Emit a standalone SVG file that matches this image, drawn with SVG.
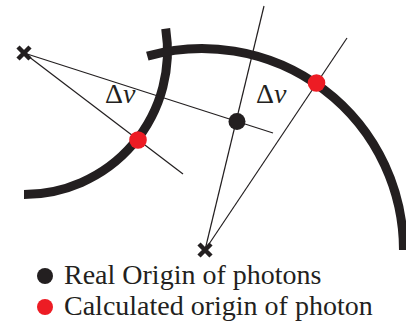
<svg xmlns="http://www.w3.org/2000/svg" width="406" height="324" viewBox="0 0 406 324">
<style>
.arc{fill:none;stroke:#231f20;stroke-width:9}
.ray{fill:none;stroke:#231f20;stroke-width:1.2}
.x{fill:none;stroke:#231f20;stroke-width:4.5}
.real{fill:#231f20}
.calc{fill:#ed1c24}
text{font-family:"Times New Roman","Liberation Serif",Times,"DejaVu Serif",serif;font-size:28px;fill:#231f20}
.it{font-style:italic}
</style>
<rect width="406" height="324" fill="#fff"/>
<g id="detector-left"><path class="arc" d="M165.7 28.6A143.5 143.5 0 0 1 24 194.5"/></g>
<g id="detector-right"><path class="arc" d="M147.3 56.1A201.5 201.5 0 0 1 403.5 250"/></g>
<g id="connectors">
<line class="ray" x1="24" y1="53" x2="273" y2="133"/>
<line class="ray" x1="24" y1="53" x2="183" y2="174"/>
<line class="ray" x1="205" y1="250" x2="264" y2="6"/>
<line class="ray" x1="205" y1="250" x2="347" y2="38"/>
</g>
<g id="cross-left"><path class="x" d="M18 47l12 12M30 47l-12 12"/></g>
<g id="cross-right"><path class="x" d="M199 244l12 12M211 244l-12 12"/></g>
<g id="real-origin"><circle class="real" cx="237" cy="121.5" r="8.5"/></g>
<g id="calc-left"><circle class="calc" cx="138" cy="140" r="8.8"/></g>
<g id="calc-right"><circle class="calc" cx="316.5" cy="83" r="8.8"/></g>
<g id="label-dnu-left"><text x="105" y="103">Δ<tspan class="it">ν</tspan></text></g>
<g id="label-dnu-right"><text x="256" y="103">Δ<tspan class="it">ν</tspan></text></g>
<g id="legend">
<circle class="real" cx="45" cy="276" r="8"/>
<text x="64" y="284">Real Origin of photons</text>
<circle class="calc" cx="45" cy="307" r="8"/>
<text x="64" y="315">Calculated origin of photon</text>
</g>
</svg>
